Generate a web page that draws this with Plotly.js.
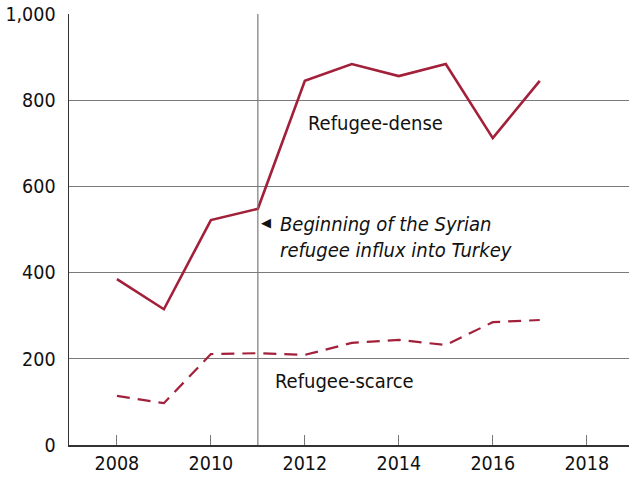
<!DOCTYPE html>
<html>
<head>
<meta charset="utf-8">
<script src="https://cdn.plot.ly/plotly-3.0.1.min.js"></script>
<style>html,body{margin:0;padding:0;background:#fff;}#chart{width:629px;height:479px;}</style>
</head>
<body>
<div id="chart"></div>
<script>
const years = [2008, 2009, 2010, 2011, 2012, 2013, 2014, 2015, 2016, 2017];
const refugeeDense = [385, 315, 522, 548, 845, 884, 856, 884, 712, 845];
const refugeeScarce = [114, 97, 211, 213, 209, 237, 244, 232, 285, 290];
const xTicks = [2008, 2010, 2012, 2014, 2016, 2018];
const yTicks = [0, 200, 400, 600, 800, 1000];
const yTickLabels = ['0', '200', '400', '600', '800', '1,000'];
const influxYear = 2011;

const FONT = 'DejaVu Sans Condensed, Liberation Sans Narrow, sans-serif';
const RED = '#a2203a';

const traces = [
  {x: years, y: refugeeDense, mode: 'lines', line: {color: RED, width: 2.6}, name: 'Refugee-dense', hoverinfo: 'skip'},
  {x: years, y: refugeeScarce, mode: 'lines', line: {color: RED, width: 2.2, dash: '13px,8px'}, name: 'Refugee-scarce', hoverinfo: 'skip'}
];

const layout = {
  width: 629, height: 479,
  margin: {l: 69, r: 0, t: 14, b: 34},
  paper_bgcolor: '#fff', plot_bgcolor: '#fff',
  showlegend: false,
  font: {family: FONT, size: 20, color: '#111'},
  xaxis: {
    range: [2006.98, 2018.9], tickvals: xTicks, ticktext: xTicks.map(String),
    showgrid: false, zeroline: false, showline: true, linecolor: '#333', linewidth: 1.5,
    ticks: 'inside', ticklen: 10, tickcolor: '#777', tickwidth: 1,
    tickfont: {family: FONT, size: 19.5, color: '#111'}
  },
  yaxis: {
    range: [0, 1000], tickvals: yTicks, ticktext: yTickLabels,
    showgrid: true, gridcolor: '#7a7a7a', gridwidth: 1, zeroline: false,
    showline: true, linecolor: '#333', linewidth: 1.5, ticks: '',
    tickfont: {family: FONT, size: 19.5, color: '#111'}, ticklabelstandoff: 8
  },
  shapes: [
    {type: 'line', xref: 'x', yref: 'y', x0: influxYear, x1: influxYear, y0: 0, y1: 1000, line: {color: '#7a7a7a', width: 1.2}}
  ],
  annotations: [
    {xref: 'x', yref: 'y', x: 2012.03, y: 748, xanchor: 'left', yanchor: 'middle', showarrow: false,
     text: 'Refugee-dense', font: {family: FONT, size: 20, color: '#111'}},
    {xref: 'x', yref: 'y', x: 2011.33, y: 148, xanchor: 'left', yanchor: 'middle', showarrow: false,
     text: 'Refugee-scarce', font: {family: FONT, size: 20, color: '#111'}},
    {xref: 'x', yref: 'y', x: 2011.02, y: 516, xanchor: 'left', yanchor: 'middle', showarrow: false,
     text: '◀', font: {family: 'DejaVu Sans', size: 13, color: '#111'}},
    {xref: 'x', yref: 'y', x: 2011.42, y: 482, xanchor: 'left', yanchor: 'middle', showarrow: false, align: 'left',
     text: '<i>Beginning of the Syrian<br>refugee influx into Turkey</i>', font: {family: FONT, size: 20, color: '#111'}}
  ]
};

Plotly.newPlot('chart', traces, layout, {staticPlot: true, displayModeBar: false});
</script>
</body>
</html>
